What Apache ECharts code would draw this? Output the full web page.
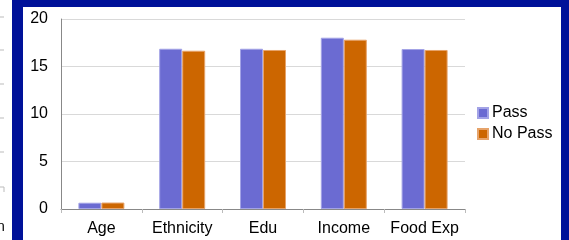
<!DOCTYPE html>
<html>
<head>
<meta charset="utf-8">
<script src="https://cdn.jsdelivr.net/npm/echarts@6/dist/echarts.min.js"></script>
<style>
html,body{margin:0;padding:0;background:#001199;}
#c{width:569px;height:240px;}
</style>
</head>
<body>
<div id="c"></div>
<script>
var categories = ['Age', 'Ethnicity', 'Edu', 'Income', 'Food Exp'];
var passValues = [0.66, 16.87, 16.87, 18.03, 16.84];
var noPassValues = [0.68, 16.66, 16.74, 17.82, 16.74];
var seriesNames = ['Pass', 'No Pass'];

var chart = echarts.init(document.getElementById('c'), null, {renderer: 'canvas'});
var font = '"Liberation Sans", Arial, sans-serif';
var leftLines = [17, 50, 84, 118, 152, 187].map(function (y) {
  return {type: 'line', shape: {x1: 0, y1: y, x2: 4, y2: y}, style: {stroke: '#bbbbbb', lineWidth: 1}, z: -5};
});
chart.setOption({
  backgroundColor: '#001199',
  animation: false,
  textStyle: {fontFamily: font},
  graphic: [
    {type: 'rect', shape: {x: 0, y: 0, width: 12, height: 240}, style: {fill: '#ffffff'}, z: -10},
    {type: 'rect', shape: {x: 23, y: 7, width: 538, height: 233}, style: {fill: '#ffffff'}, z: -10},
    {type: 'line', shape: {x1: 4, y1: 187, x2: 4, y2: 192}, style: {stroke: '#bbbbbb', lineWidth: 1}, z: -5},
    {type: 'text', x: -3, y: 220, style: {text: 'n', fill: '#000', font: '14px ' + font}, z: -5}
  ].concat(leftLines),
  grid: {left: 61, top: 19, right: 104, bottom: 31, containLabel: false},
  legend: {
    orient: 'vertical',
    left: 477,
    top: 105,
    padding: 0,
    icon: 'rect',
    itemWidth: 10,
    itemHeight: 10,
    itemGap: 5,
    textStyle: {fontSize: 16, color: '#000', fontFamily: font, padding: [0, 0, 0, -1]},
    data: seriesNames
  },
  xAxis: {
    type: 'category',
    data: categories,
    axisLine: {lineStyle: {color: '#888888', width: 1}},
    axisTick: {show: true, length: 4, lineStyle: {color: '#bbbbbb'}},
    axisLabel: {fontSize: 16, color: '#000', margin: 12, fontFamily: font, interval: 0, hideOverlap: false}
  },
  yAxis: {
    type: 'value',
    min: 0,
    max: 20,
    interval: 5,
    axisLine: {show: true, lineStyle: {color: '#888888', width: 1}},
    axisTick: {show: false},
    splitLine: {lineStyle: {color: '#d9d9d9', width: 1}},
    axisLabel: {fontSize: 16, color: '#000', margin: 13, fontFamily: font}
  },
  series: [
    {
      name: seriesNames[0], type: 'bar', data: passValues, barWidth: 23, barGap: '0%',
      itemStyle: {color: '#6b6bd2', borderColor: '#a3a3e6', borderWidth: 1}
    },
    {
      name: seriesNames[1], type: 'bar', data: noPassValues, barWidth: 23, barGap: '0%',
      itemStyle: {color: '#cc6600', borderColor: '#e6a36a', borderWidth: 1}
    }
  ]
});
</script>
</body>
</html>
